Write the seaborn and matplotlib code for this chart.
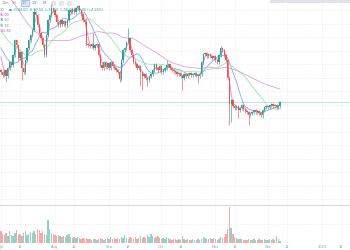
import numpy as np
import pandas as pd
import matplotlib
matplotlib.use("Agg")
import matplotlib.pyplot as plt
from matplotlib.patches import Rectangle
import seaborn as sns

# ---------------- data ----------------
start_date = "2022-07-01"
closes = [128, 125, 130, 124, 132, 138, 135, 145, 160, 155,
          142, 148, 132, 128, 140, 152, 160, 165, 170, 188,
          185, 175, 167, 162, 155, 145, 165, 180, 185, 192,
          190, 185, 178, 175, 180, 176, 179, 175, 180, 190,
          188, 191, 188, 192, 194, 190, 186, 180, 178, 156,
          155, 154, 156, 152, 155, 156, 145, 135, 132, 138,
          133, 137, 132, 138, 134, 132, 130, 128, 121, 140,
          150, 152, 158, 162, 150, 145, 138, 136, 132, 134,
          128, 124, 126, 122, 120, 124, 126, 130, 136, 132,
          130, 134, 128, 130, 132, 135, 136, 132, 130, 129,
          128, 126, 127, 124, 122, 126, 124, 126, 127, 125,
          126, 127, 125, 124, 126, 138, 146, 147, 144, 146,
          144, 142, 144, 140, 138, 145, 152, 150, 145, 140,
          122, 96, 100, 94, 92, 94, 90, 92, 95, 91,
          89, 88, 85, 87, 88, 90, 88, 89, 87, 85,
          90, 93, 94, 93, 95, 96, 94, 95, 93, 94, 98]
first_open = 130
# closes before the visible window (only feed the moving averages)
prior_closes = [285, 282, 284, 280, 278, 281, 276, 274, 277, 272,
                270, 273, 268, 266, 270, 264, 262, 265, 260, 258,
                261, 255, 252, 240, 230,
                195, 188, 182, 190, 180, 185, 178, 182, 175, 180,
                172, 178, 182, 175, 170,
                160, 155, 162, 150, 158, 152, 156, 148, 154]
high_overrides = {19: 192, 29: 196, 49: 182, 53: 167, 73: 172, 95: 140, 126: 154}
low_overrides = {3: 118, 12: 120, 68: 118, 80: 114, 81: 110, 84: 114, 104: 110,
                 113: 117, 131: 75, 132: 78, 136: 82, 142: 75, 150: 82}
volumes = [12, 9, 8, 10, 7, 12, 8, 7, 10, 13, 8, 9,
           7, 10, 12, 8, 9, 11, 10, 12, 9, 14, 13, 10,
           12, 9, 8, 23, 14, 10, 9, 8, 7, 8, 7, 6,
           7, 6, 8, 9, 6, 5, 6, 5, 6, 5, 4, 5,
           4, 5, 4, 4, 3, 4, 4, 3, 4, 5, 4, 3,
           4, 5, 4, 6, 4, 5, 4, 5, 4, 6, 5, 8,
           5, 4, 6, 5, 4, 6, 4, 5, 7, 5, 6, 5,
           8, 6, 9, 7, 5, 6, 7, 5, 4, 5, 4, 6,
           5, 4, 3, 4, 4, 3, 4, 3, 7, 4, 3, 4,
           3, 3, 4, 3, 3, 4, 3, 4, 6, 5, 4, 4,
           5, 4, 5, 4, 3, 4, 6, 5, 6, 9, 14, 36,
           15, 9, 6, 5, 4, 4, 4, 3, 3, 3, 4, 3,
           3, 4, 3, 3, 4, 3, 3, 4, 3, 3, 4, 3,
           4, 3, 7, 4, 2]
ma_windows = [3, 10, 25, 50]
ma_names = ["MA3", "MA10", "MA25", "MA50"]
tick_dates = ["2022-07-01", "2022-07-12", "2022-08-01", "2022-08-12", "2022-09-01",
              "2022-09-12", "2022-10-01", "2022-10-12", "2022-11-01", "2022-11-12",
              "2022-12-01", "2022-12-12", "2023-01-01", "2023-01-12"]
tick_labels = ["Jul", "12", "Aug", "12", "Sep", "12", "Oct", "12", "Nov", "12",
               "Dec", "12", "2023", "12"]
toolbar_items = ["15m", "1H", "1D", "1W", "1M"]

# ---------------- styling ----------------
UP, DOWN = "#26a69a", "#ef5350"
ma_colors = ["#f083c4", "#86a8f2", "#9fe3ad", "#e2a2d8"]
ma_text_colors = ["#e040b0", "#4f7df0", "#43b05a", "#c060b0"]
GRID = "#e4e7ee"

sns.set_theme(style="white")
plt.rcParams["font.family"] = ["DejaVu Sans"]

W, H = 350, 250
fig = plt.figure(figsize=(3.5, 2.5), dpi=100)
ax = fig.add_axes([0, 1 - 205 / H, 1, 205 / H])
axv = fig.add_axes([0, 1 - 243 / H, 1, 38 / H], sharex=ax)

n = len(closes)
days = np.arange(n)
opens = [first_open] + closes[:-1]
highs = [high_overrides.get(i, max(o, c) + 1.5) for i, (o, c) in enumerate(zip(opens, closes))]
lows = [low_overrides.get(i, min(o, c) - 1.5) for i, (o, c) in enumerate(zip(opens, closes))]
colors = [UP if c >= o else DOWN for o, c in zip(opens, closes)]

start = pd.Timestamp(start_date)
tick_pos = [(pd.Timestamp(d) - start).days for d in tick_dates]

for a in (ax, axv):
    a.set_xticks(tick_pos)
    a.grid(True, axis="x", color=GRID, lw=0.5, ls=(0, (1, 1.5)))
    for s in a.spines.values():
        s.set_visible(False)
    a.tick_params(length=0, labelleft=False, labelright=False)
    a.set_facecolor("white")

ax.set_yticks(np.arange(190, -5, -13.5))
ax.grid(True, axis="y", color=GRID, lw=0.5, ls=(0, (1, 1.5)))
ax.tick_params(labelbottom=False)
ax.set_xlim(-0.5, 200.1)
ax.set_ylim(-5, 200)

# moving averages
all_c = pd.Series(prior_closes + closes, dtype=float)
ma_last = []
for w, col in zip(ma_windows, ma_colors):
    ma = all_c.rolling(w).mean().iloc[len(prior_closes):].values
    ma_last.append(ma[-1])
    sns.lineplot(x=days, y=ma, ax=ax, color=col, lw=0.6, zorder=2)

# candles
ax.vlines(days, lows, highs, colors=colors, lw=0.45, zorder=3)
bottoms = [min(o, c) for o, c in zip(opens, closes)]
heights = [max(abs(c - o), 0.6) for o, c in zip(opens, closes)]
ax.bar(days, heights, bottom=bottoms, width=0.72, color=colors, lw=0, zorder=4)

# last price line
ax.axhline(closes[-1], color=UP, alpha=0.35, lw=0.6, zorder=1)

# volume
vcolors = ["#8fd3cb" if c == UP else "#f7a9a8" for c in colors]
axv.bar(days, volumes, width=0.8, color=vcolors, lw=0)
axv.set_ylim(0, 38)
axv.set_yticks([19])
axv.grid(True, axis="y", color=GRID, lw=0.5, ls=(0, (1, 1.5)))
axv.spines["top"].set_visible(True)
axv.spines["top"].set_color("#d6d9e0")
axv.spines["top"].set_linewidth(0.8)
axv.set_xticklabels(tick_labels, fontsize=2.6, color="#9598a1")
axv.tick_params(axis="x", pad=1.6, labelbottom=True)
axv.set_xlabel("")
axv.set_ylabel("")
ax.set_xlabel("")
ax.set_ylabel("")

# ---------------- header texts ----------------
def px(x, y):
    return x / W, 1 - y / H

for i, lab in enumerate(toolbar_items):
    x0 = 2 + 10 * i
    if i == 2:
        fig.patches.append(Rectangle(px(x0 - 1, 5.5), 8 / W, 5 / H, transform=fig.transFigure,
                                     facecolor="#dbe6fb", edgecolor="#7aa0ef", lw=0.4))
    fig.text(*px(x0, 3), lab, fontsize=2.4, color="#787b86", va="center", ha="left")
for xi in (52, 60, 68):
    fig.patches.append(Rectangle(px(xi, 5), 3 / W, 3 / H, transform=fig.transFigure,
                                 facecolor="none", edgecolor="#9598a1", lw=0.3))
fig.patches.append(Rectangle(px(270, 3), 80 / W, 3 / H, transform=fig.transFigure,
                             facecolor="#e1e3ea", edgecolor="none"))

o, h, l, c = opens[-1], highs[-1], lows[-1], closes[-1]
fig.text(*px(0, 10), "1D", fontsize=2.4, color="#787b86", va="center")
fig.text(*px(9, 10), "\u25cf", fontsize=2.4, color=UP, va="center")
fig.text(*px(14, 10), f"O:{o:.2f}  H:{h:.2f}  L:{l:.2f}  C:{c:.2f}  +{c - o:.2f} (+{(c - o) / o * 100:.2f}%)",
         fontsize=2.4, color=UP, va="center")
for k, (name, val, tc) in enumerate(zip(ma_names, ma_last, ma_text_colors)):
    fig.text(*px(0, 14.5 + 5.6 * k), f"{val:.2f}", fontsize=2.4, color=tc, va="center")

fig.savefig("out.png", dpi=100, facecolor="white")
